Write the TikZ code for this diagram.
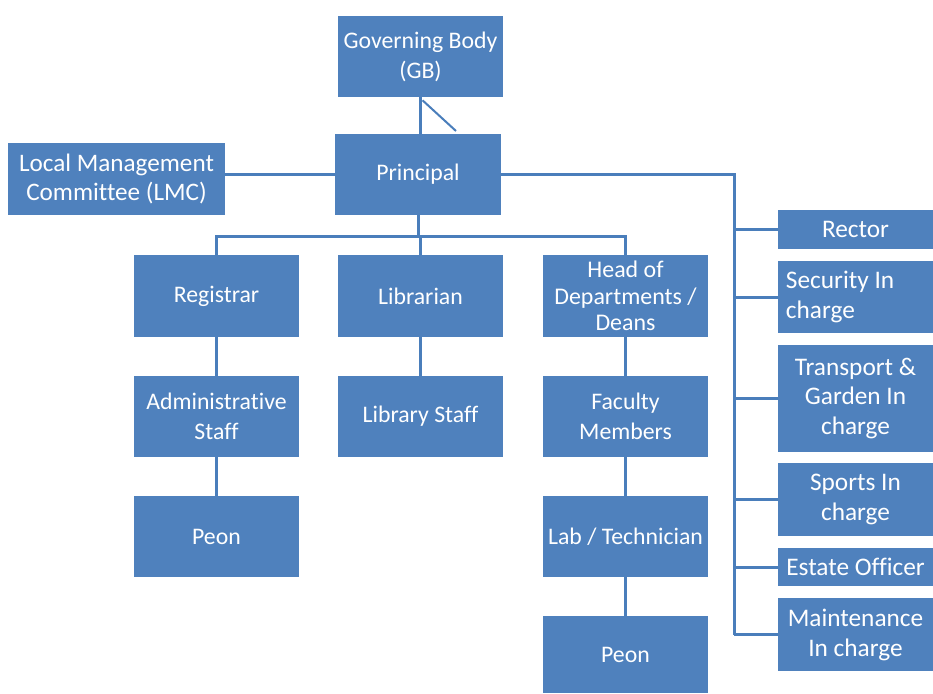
\documentclass[tikz,border=0pt]{standalone}
\usepackage{fontspec}
\setmainfont[Ligatures=NoCommon]{Carlito}
\definecolor{orgblue}{HTML}{4F81BD}
\definecolor{orgline}{HTML}{4A7EBB}
\begin{document}
\begin{tikzpicture}[
x=0.025cm, y=-0.025cm,
box/.style={fill=orgblue, text=white, align=center, inner sep=0pt,
  font=\fontsize{16.9}{21.3}\selectfont, minimum width=4.125cm, minimum height=2.025cm},
rbox/.style={box, minimum width=3.875cm, font=\fontsize{18}{21.3}\selectfont},
link/.style={draw=orgline, line width=0.075cm},
]
\useasboundingbox (0,0) rectangle (933,693);

% top
\node[box] (gb) at (420.5,56.5) {Governing Body\\(GB)};
\node[box] (principal) at (418,174.5) {Principal};
\node[box, minimum width=5.425cm, minimum height=1.8cm, font=\fontsize{17.9}{21.3}\selectfont] (lmc) at (116.5,179) {Local Management\\Committee (LMC)};

% three columns
\node[box] (registrar) at (216.5,296) {Registrar};
\node[box] (librarian) at (420.5,296) {Librarian};
\node[box, font=\fontsize{17}{19}\selectfont] (hod) at (625.5,296) {Head of\\Departments /\\Deans};
\node[box] (admin) at (216.5,416.5) {Administrative\\Staff};
\node[box] (libstaff) at (420.5,416.5) {Library Staff};
\node[box] (faculty) at (625.5,416.5) {Faculty\\Members};
\node[box] (peonA) at (216.5,536.5) {Peon};
\node[box] (lab) at (625.5,536.5) {Lab / Technician};
\node[box, minimum height=1.925cm] (peonB) at (625.5,654.5) {Peon};

% right column
\node[rbox, minimum height=0.975cm] (rector) at (855.5,229.5) {Rector};
\node[rbox, minimum height=1.8cm, text width=3.475cm, align=flush left, inner xsep=0.2cm] (security) at (855.5,297) {Security In\\charge};
\node[rbox, minimum height=2.675cm] (transport) at (855.5,398.5) {Transport \&\\Garden In\\charge};
\node[rbox, minimum height=1.825cm] (sports) at (855.5,499.5) {Sports In\\charge};
\node[rbox, minimum height=0.95cm] (estate) at (855.5,567) {Estate Officer};
\node[rbox, minimum height=1.825cm] (maintenance) at (855.5,634.5) {Maintenance\\In charge};

% connectors
\coordinate (gbd) at (456,131);
\coordinate (bus) at (420,236);
\coordinate (rbus) at (734,174.5);
\draw[link] (gb.south) -- (gb.south |- principal.north);
\draw[link, line width=0.05cm] (gb.south) ++(2,3) -- (gbd);
\draw[link] (principal.west) -- (principal.west -| lmc.east);
\draw[link] (principal.south) -- (principal.south |- bus);
\draw[link] (registrar.north) |- (bus) -| (hod.north);
\draw[link] (librarian.north) -- (librarian.north |- bus);
\draw[link] (registrar) -- (admin);
\draw[link] (admin) -- (peonA);
\draw[link] (librarian) -- (libstaff);
\draw[link] (hod) -- (faculty);
\draw[link] (faculty) -- (lab);
\draw[link] (lab) -- (peonB);
\draw[link] (principal.east) -- (rbus) -- (rbus |- maintenance.west);
\foreach \n in {rector,security,transport,sports,estate,maintenance}
  \draw[link] (rbus |- \n.west) -- (\n.west);
\end{tikzpicture}
\end{document}
